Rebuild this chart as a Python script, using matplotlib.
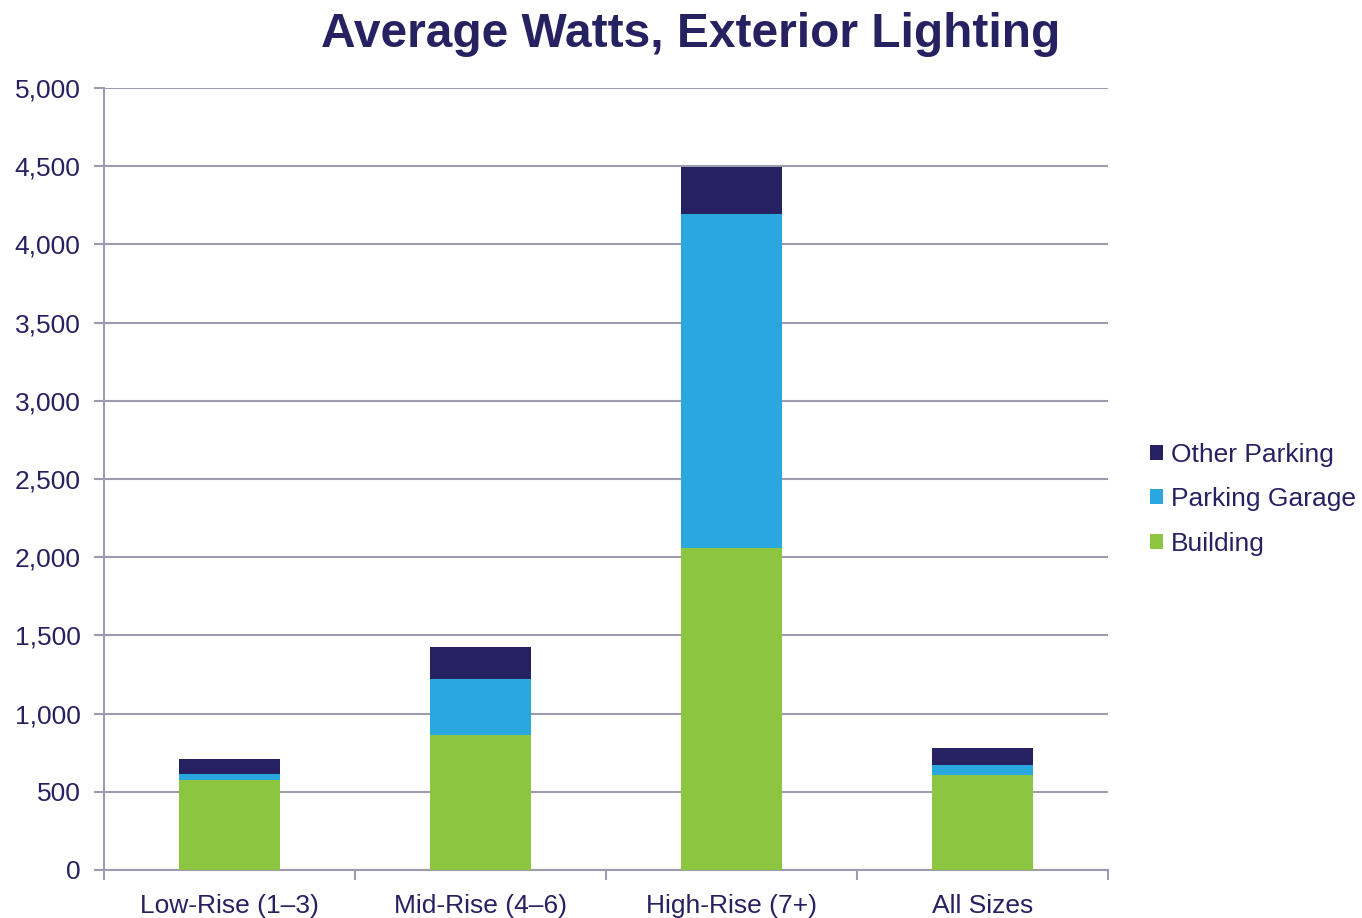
import matplotlib.pyplot as plt
import numpy as np

plt.rcParams['font.family'] = ['Liberation Sans', 'DejaVu Sans']

categories = ["Low-Rise (1\u20133)", "Mid-Rise (4\u20136)", "High-Rise (7+)", "All Sizes"]
building = [575, 863, 2061, 605]
parking_garage = [37, 356, 2133, 68]
other_parking = [100, 205, 303, 109]

navy = "#262262"
blue = "#29A8E0"
green = "#8CC540"
gray = "#9D9BAE"

fig = plt.figure(figsize=(13.62, 9.18), dpi=100)
ax = fig.add_axes([0.0764, 0.0523, 0.7371, 0.8518])

x = np.arange(len(categories))
b1 = np.array(building)
b2 = b1 + np.array(parking_garage)
ax.bar(x, building, width=0.4, color=green, label="Building", zorder=3)
ax.bar(x, parking_garage, width=0.4, bottom=b1, color=blue, label="Parking Garage", zorder=3)
ax.bar(x, other_parking, width=0.4, bottom=b2, color=navy, label="Other Parking", zorder=3)

ax.set_xlim(-0.5, len(categories) - 0.5)
ax.set_ylim(0, 5000)
ax.set_yticks(np.arange(0, 5001, 500))
ax.set_yticklabels([f"{v:,}" for v in range(0, 5001, 500)])
ax.yaxis.grid(True, color=gray, linewidth=1.5, zorder=0)
ax.set_xticks(x)
ax.set_xticklabels(categories)
ax.set_xticks(np.arange(-0.5, len(categories)), minor=True)
ax.tick_params(axis='x', which='major', length=0, pad=17)
ax.tick_params(axis='x', which='minor', length=7, width=1.5, color=gray)
ax.tick_params(axis='y', length=7, width=1.5, color=gray, pad=10)
ax.tick_params(labelsize=19, labelcolor=navy)

for s in ['top', 'right']:
    ax.spines[s].set_visible(False)
for s in ['left', 'bottom']:
    ax.spines[s].set_color(gray)
    ax.spines[s].set_linewidth(1.5)

fig.text(0.507, 1 - 47 / 918, "Average Watts, Exterior Lighting", ha='center', va='baseline',
         fontsize=34.5, fontweight='bold', color=navy)

handles, labels = ax.get_legend_handles_labels()
leg = ax.legend(handles[::-1], labels[::-1], loc='center left', bbox_to_anchor=(1.042, 0.474),
                frameon=False, fontsize=19, handlelength=0.5, handleheight=0.5,
                handletextpad=0.28, labelspacing=0.78, borderpad=0, borderaxespad=0)
for t in leg.get_texts():
    t.set_color(navy)

fig.savefig("out.png", dpi=100)
